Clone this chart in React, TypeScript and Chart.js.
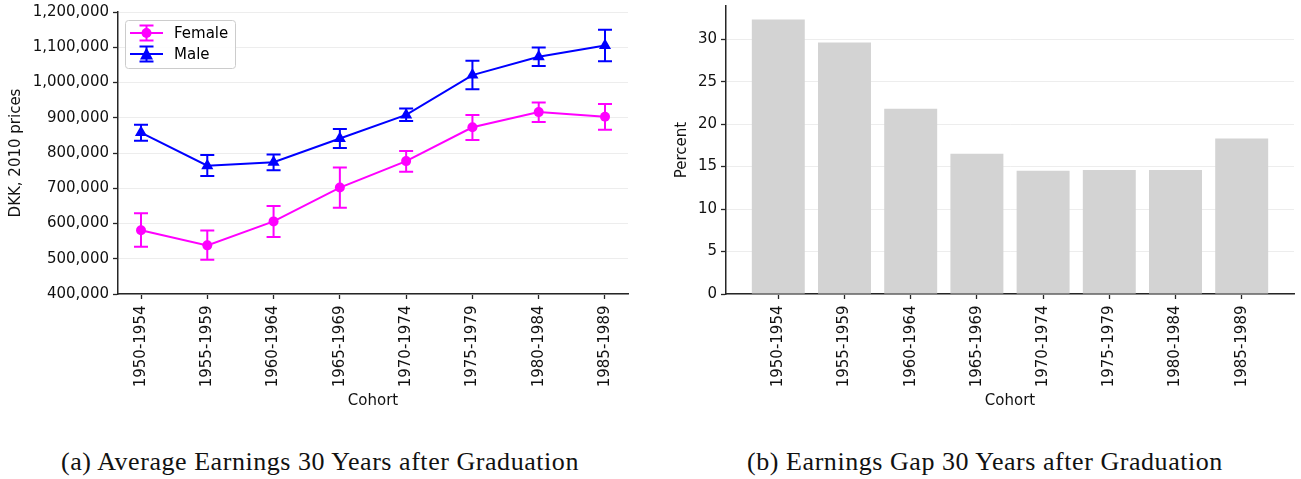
import React, { useEffect, useRef } from 'react';
import { Chart, registerables } from 'chart.js';

Chart.register(...registerables);

const cohorts = ['1950-1954', '1955-1959', '1960-1964', '1965-1969', '1970-1974', '1975-1979', '1980-1984', '1985-1989'];

const femaleMean = [581000, 538000, 606000, 702000, 777000, 873000, 916000, 903000];
const femaleLow = [534000, 497000, 562000, 645000, 747000, 837000, 888000, 866000];
const femaleHigh = [629000, 580000, 650000, 759000, 806000, 908000, 943000, 939000];

const maleMean = [858000, 764000, 774000, 841000, 908000, 1021000, 1073000, 1105000];
const maleLow = [835000, 735000, 751000, 814000, 891000, 981000, 1047000, 1060000];
const maleHigh = [880000, 794000, 796000, 868000, 926000, 1062000, 1099000, 1150000];

const gapPercent = [32.3, 29.6, 21.8, 16.5, 14.5, 14.6, 14.6, 18.3];

const earningsTicks = [400000, 500000, 600000, 700000, 800000, 900000, 1000000, 1100000, 1200000];
const percentTicks = [0, 5, 10, 15, 20, 25, 30];

const FEMALE = '#ff00ff';
const MALE = '#0000ff';
const BAR = '#d3d3d3';
const SPINE = '#262626';
const GRID = '#ededed';
const FONT = 'DejaVu Sans';
const FS = 15;

const cohortIdx = cohorts.map((_, i) => i);

function xTicks(scale: any) {
  scale.ticks = cohortIdx.map((v) => ({ value: v }));
}

const errorBarPlugin = {
  id: 'errorBars',
  beforeDatasetsDraw(chart: any) {
    const { ctx } = chart;
    const xs = chart.scales.x;
    const ys = chart.scales.y;
    const series = [
      { low: femaleLow, high: femaleHigh, color: FEMALE },
      { low: maleLow, high: maleHigh, color: MALE },
    ];
    ctx.save();
    ctx.lineWidth = 2;
    for (const s of series) {
      ctx.strokeStyle = s.color;
      cohortIdx.forEach((i) => {
        const px = xs.getPixelForValue(i);
        const y1 = ys.getPixelForValue(s.low[i]);
        const y2 = ys.getPixelForValue(s.high[i]);
        ctx.beginPath();
        ctx.moveTo(px, y1);
        ctx.lineTo(px, y2);
        ctx.moveTo(px - 7, y1);
        ctx.lineTo(px + 7, y1);
        ctx.moveTo(px - 7, y2);
        ctx.lineTo(px + 7, y2);
        ctx.stroke();
      });
    }
    ctx.restore();
  },
};

const legendPlugin = {
  id: 'errLegend',
  afterDraw(chart: any) {
    const { ctx, chartArea } = chart;
    const bx = chartArea.left + 7;
    const by = chartArea.top + 8;
    ctx.save();
    ctx.beginPath();
    (ctx as any).roundRect(bx + 0.5, by + 0.5, 110, 48, 3);
    ctx.fillStyle = 'rgba(255,255,255,0.85)';
    ctx.fill();
    ctx.strokeStyle = '#cccccc';
    ctx.lineWidth = 1;
    ctx.stroke();
    const entries = [
      { label: 'Female', color: FEMALE, shape: 'circle', y: by + 13 },
      { label: 'Male', color: MALE, shape: 'triangle', y: by + 34 },
    ];
    for (const e of entries) {
      const x0 = bx + 5;
      const x1 = bx + 38;
      const xm = (x0 + x1) / 2;
      ctx.strokeStyle = e.color;
      ctx.fillStyle = e.color;
      ctx.lineWidth = 2;
      ctx.beginPath();
      ctx.moveTo(x0, e.y);
      ctx.lineTo(x1, e.y);
      ctx.moveTo(xm, e.y - 7.5);
      ctx.lineTo(xm, e.y + 7.5);
      ctx.moveTo(xm - 7, e.y - 7.5);
      ctx.lineTo(xm + 7, e.y - 7.5);
      ctx.moveTo(xm - 7, e.y + 7.5);
      ctx.lineTo(xm + 7, e.y + 7.5);
      ctx.stroke();
      ctx.beginPath();
      if (e.shape === 'circle') {
        ctx.arc(xm, e.y, 5, 0, Math.PI * 2);
      } else {
        ctx.moveTo(xm, e.y - 6.5);
        ctx.lineTo(xm - 6.5, e.y + 5.5);
        ctx.lineTo(xm + 6.5, e.y + 5.5);
        ctx.closePath();
      }
      ctx.fill();
      ctx.fillStyle = '#000';
      ctx.font = `${FS}px ${FONT}`;
      ctx.textBaseline = 'middle';
      ctx.textAlign = 'left';
      ctx.fillText(e.label, bx + 49, e.y + 1);
    }
    ctx.restore();
  },
};

function zeroPad(scale: any) {
  scale.paddingTop = 0;
  scale.paddingBottom = 0;
  scale.paddingLeft = 0;
  scale.paddingRight = 0;
}

const tickFont = { family: FONT, size: FS };

export default function App() {
  const leftRef = useRef<HTMLCanvasElement>(null);
  const rightRef = useRef<HTMLCanvasElement>(null);

  useEffect(() => {
    const left = new Chart(leftRef.current as HTMLCanvasElement, {
      type: 'line',
      data: {
        datasets: [
          {
            label: 'Female',
            data: cohortIdx.map((i) => ({ x: i, y: femaleMean[i] })),
            borderColor: FEMALE,
            backgroundColor: FEMALE,
            borderWidth: 2,
            pointRadius: 5,
            pointStyle: 'circle',
            pointBorderWidth: 0,
            tension: 0,
          },
          {
            label: 'Male',
            data: cohortIdx.map((i) => ({ x: i, y: maleMean[i] })),
            borderColor: MALE,
            backgroundColor: MALE,
            borderWidth: 2,
            pointRadius: 7,
            pointStyle: 'triangle',
            pointBorderWidth: 0,
            tension: 0,
          },
        ],
      },
      options: {
        responsive: false,
        animation: false,
        devicePixelRatio: 1,
        layout: { padding: { top: 12, right: 22, left: 0, bottom: 0 } },
        plugins: { legend: { display: false }, tooltip: { enabled: false } },
        scales: {
          x: {
            type: 'linear',
            min: -0.347,
            max: 7.347,
            afterBuildTicks: xTicks,
            afterFit: (s: any) => { s.height = 136; zeroPad(s); },
            grid: { display: true, offset: false, drawOnChartArea: false, drawTicks: true, tickLength: 5, tickColor: SPINE, tickWidth: 1.3 },
            border: { display: true, color: SPINE, width: 1.5 },
            ticks: {
              autoSkip: false,
              minRotation: 90,
              maxRotation: 90,
              padding: 6.5,
              color: '#111',
              font: tickFont,
              callback: (v: any) => cohorts[Math.round(v)] ?? '',
            },
            title: { display: true, text: 'Cohort', color: '#111', font: tickFont, padding: { top: 0, bottom: 20 } },
          },
          y: {
            type: 'linear',
            min: 400000,
            max: 1200000,
            afterBuildTicks: (s: any) => { s.ticks = earningsTicks.map((v) => ({ value: v })); },
            afterFit: (s: any) => { s.width = 118; zeroPad(s); },
            grid: { color: GRID, lineWidth: 1, tickLength: 5, tickColor: SPINE, tickWidth: 1.3 },
            border: { display: true, color: SPINE, width: 1.5 },
            ticks: {
              padding: 4,
              color: '#111',
              font: tickFont,
              callback: (v: any) => Number(v).toLocaleString('en-US'),
            },
            title: { display: true, text: 'DKK, 2010 prices', color: '#111', font: tickFont, padding: { top: 7.5, bottom: 0 } },
          },
        },
      },
      plugins: [errorBarPlugin, legendPlugin],
    } as any);

    const right = new Chart(rightRef.current as HTMLCanvasElement, {
      type: 'bar',
      data: {
        datasets: [
          {
            label: 'Gap',
            data: cohortIdx.map((i) => ({ x: i, y: gapPercent[i] })),
            backgroundColor: BAR,
            borderWidth: 0,
            barPercentage: 0.8,
            categoryPercentage: 1,
          },
        ],
      },
      options: {
        responsive: false,
        animation: false,
        devicePixelRatio: 1,
        layout: { padding: { top: 6, right: 7, left: 0, bottom: 0 } },
        plugins: { legend: { display: false }, tooltip: { enabled: false } },
        scales: {
          x: {
            type: 'linear',
            min: -0.79,
            max: 7.79,
            offset: false,
            afterBuildTicks: xTicks,
            afterFit: (s: any) => { s.height = 136; zeroPad(s); },
            grid: { display: true, offset: false, drawOnChartArea: false, drawTicks: true, tickLength: 5, tickColor: SPINE, tickWidth: 1.3 },
            border: { display: true, color: SPINE, width: 1.5 },
            ticks: {
              autoSkip: false,
              minRotation: 90,
              maxRotation: 90,
              padding: 6.5,
              color: '#111',
              font: tickFont,
              callback: (v: any) => cohorts[Math.round(v)] ?? '',
            },
            title: { display: true, text: 'Cohort', color: '#111', font: tickFont, padding: { top: 0, bottom: 20 } },
          },
          y: {
            type: 'linear',
            min: 0,
            max: 33.9,
            afterBuildTicks: (s: any) => { s.ticks = percentTicks.map((v) => ({ value: v })); },
            afterFit: (s: any) => { s.width = 76; zeroPad(s); },
            grid: { color: GRID, lineWidth: 1, offset: false, tickLength: 5, tickColor: SPINE, tickWidth: 1.3 },
            border: { display: true, color: SPINE, width: 1.5 },
            ticks: { padding: 4, color: '#111', font: tickFont },
            title: { display: true, text: 'Percent', color: '#111', font: tickFont, padding: { top: 23.5, bottom: 0 } },
          },
        },
      },
    } as any);

    return () => {
      left.destroy();
      right.destroy();
    };
  }, []);

  const capStyle: React.CSSProperties = {
    position: 'absolute',
    top: 449,
    fontFamily: '"Liberation Serif", serif',
    fontSize: 26,
    lineHeight: '26px',
    letterSpacing: '0.55px',
    textAlign: 'center',
    color: '#111',
    whiteSpace: 'nowrap',
  };

  return (
    <div style={{ position: 'absolute', left: 0, top: 0, width: 1301, height: 479, background: '#fff', overflow: 'hidden' }}>
      <canvas ref={leftRef} width={650} height={430} style={{ position: 'absolute', left: 0, top: 0, width: 650, height: 430 }} />
      <canvas ref={rightRef} width={651} height={430} style={{ position: 'absolute', left: 650, top: 0, width: 651, height: 430 }} />
      <div style={{ ...capStyle, left: 20, width: 600 }}>(a) Average Earnings 30 Years after Graduation</div>
      <div style={{ ...capStyle, left: 685, width: 600 }}>(b) Earnings Gap 30 Years after Graduation</div>
    </div>
  );
}
